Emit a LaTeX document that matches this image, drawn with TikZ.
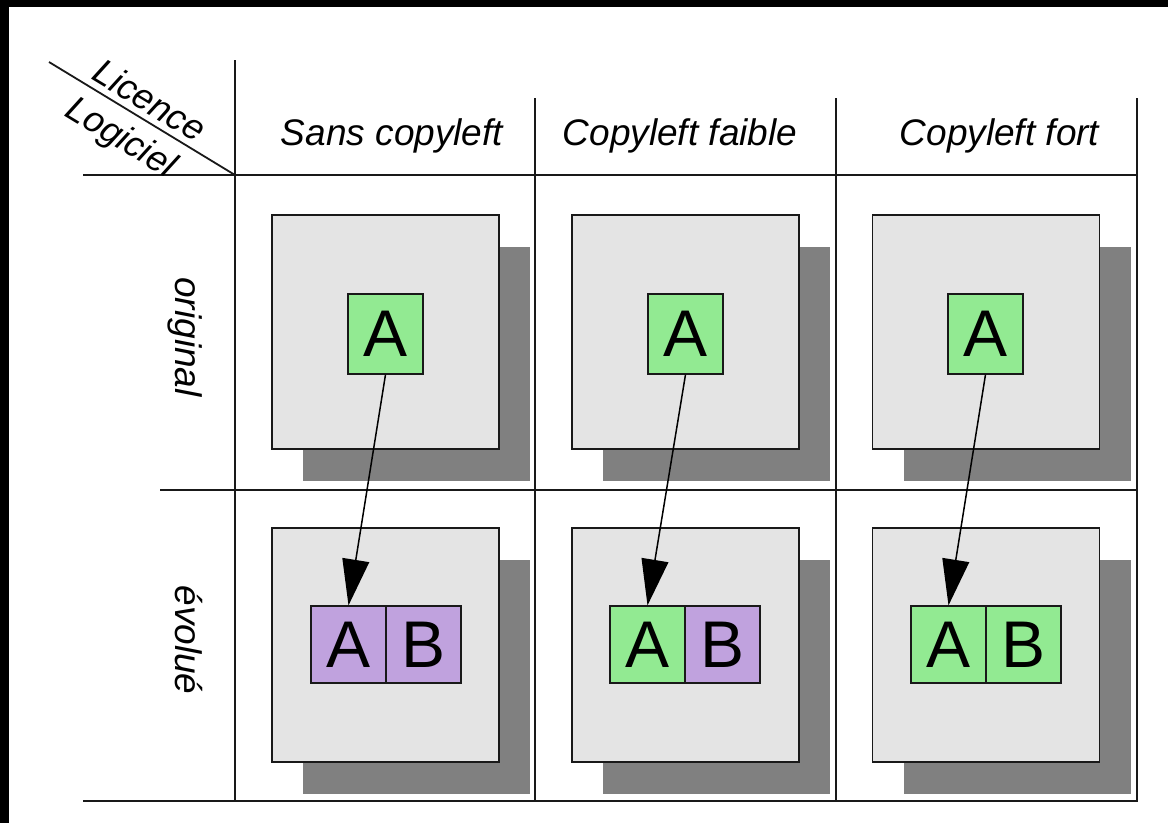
\documentclass[tikz,border=0pt]{standalone}
\usepackage{fontspec}
\setmainfont{Liberation Sans}
\usetikzlibrary{arrows.meta,shadows}
\definecolor{boxgray}{RGB}{228,228,228}
\definecolor{shadowgray}{RGB}{128,128,128}
\definecolor{agreen}{RGB}{146,234,146}
\definecolor{apurple}{RGB}{192,162,222}
\definecolor{linecol}{RGB}{25,25,25}
\begin{document}
\begin{tikzpicture}[x=1pt,y=-1pt,
  gridline/.style={line width=1.8pt, draw=linecol},
  bigbox/.style={draw=linecol, line width=1.8pt, fill=boxgray, minimum width=227pt, minimum height=234pt, inner sep=0pt,
    drop shadow={shadow xshift=31pt, shadow yshift=-32pt, opacity=1, fill=shadowgray}},
  cellbox/.style={draw=linecol, line width=1.2pt, minimum width=75pt, inner sep=0pt, font=\fontsize{66}{66}\selectfont},
  topcell/.style={cellbox, minimum height=80pt, fill=agreen},
  subcell/.style={cellbox, minimum height=77pt},
  hdr/.style={font=\fontsize{37}{40}\selectfont\itshape, anchor=base, inner sep=0pt},
  rowlab/.style={font=\fontsize{37}{40}\selectfont\itshape, anchor=base, inner sep=0pt, rotate=-90},
  diaglab/.style={font=\fontsize{36}{40}\selectfont\itshape, inner sep=0pt, rotate=-31.3},
  arr/.style={line width=1.5pt, draw=black, -{Triangle[length=46pt,width=27pt]}}
]
% page
\fill[white] (0,0) rectangle (1168,823);
\fill[black] (0,0) rectangle (1168,7);
\fill[black] (0,0) rectangle (9,823);

% grid
\coordinate (d0) at (49,62);
\coordinate (d1) at (235,175);
\draw[gridline] (d0) -- (d1);
\draw[gridline] (235,60) -- (235,801);
\draw[gridline] (535,98) -- (535,801);
\draw[gridline] (836,98) -- (836,801);
\draw[gridline] (1137,98) -- (1137,802);
\draw[gridline] (83,175) -- (1137,175);
\draw[gridline] (160,490) -- (1137,490);
\draw[gridline] (83,801) -- (1137,801);

% header labels
\node[diaglab] (lic) at (150,100) {Licence};
\node[diaglab] (log) at (120,139) {Logiciel};
\node[hdr] (h1) at (392,145) {Sans copyleft};
\node[hdr] (h2) at (680,145) {Copyleft faible};
\node[hdr] (h3) at (999.5,145) {Copyleft fort};
\node[rowlab] (r1) at (175,337) {original};
\node[rowlab] (r2) at (175,640) {évolué};

% big boxes
\node[bigbox] (u1) at (385.5,332) {};
\node[bigbox] (l1) at (385.5,645) {};
\node[bigbox] (u2) at (685.5,332) {};
\node[bigbox] (l2) at (685.5,645) {};
\node[bigbox] (u3) at (986,332) {};
\node[bigbox] (l3) at (986,645) {};

% original A
\node[topcell] (a1) at (385.5,334) {A};
\node[topcell] (a2) at (685.5,334) {A};
\node[topcell] (a3) at (985.5,334) {A};

% evolved A|B
\node[subcell, fill=apurple] (e1a) at (348.5,644.5) {A};
\node[subcell, fill=apurple] (e1b) at (423.5,644.5) {B};
\node[subcell, fill=agreen] (e2a) at (647.5,644.5) {A};
\node[subcell, fill=apurple] (e2b) at (722.5,644.5) {B};
\node[subcell, fill=agreen] (e3a) at (948.5,644.5) {A};
\node[subcell, fill=agreen] (e3b) at (1023.5,644.5) {B};

% arrows
\draw[arr] (a1.south) -- (e1a.north);
\draw[arr] (a2.south) -- (e2a.north);
\draw[arr] (a3.south) -- (e3a.north);
\end{tikzpicture}
\end{document}
